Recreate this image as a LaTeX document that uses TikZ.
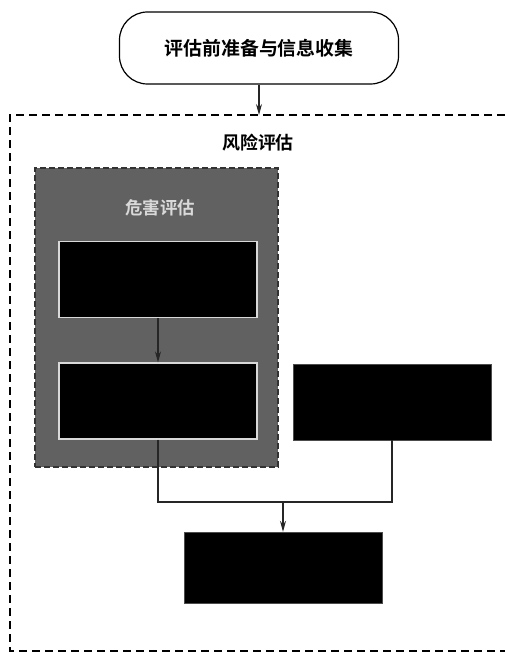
\documentclass[tikz,border=0pt]{standalone}
\usepackage{fontspec}
\setmainfont{Noto Sans CJK SC}[BoldFont={Noto Sans CJK SC Bold}]
\usetikzlibrary{arrows.meta}
\tikzset{
  blackbox/.style={draw=black!70, fill=black, minimum width=198bp, minimum height=76bp, inner sep=0pt},
  conn/.style={line width=1.2bp, draw=black!85},
  arr/.style={conn, -{Stealth[length=11bp,width=6bp]}},
  outerdash/.style={line width=1.4bp, dash pattern=on 8bp off 5bp},
}
\begin{document}
\begin{tikzpicture}[x=1bp,y=-1bp]
\useasboundingbox (0,0) rectangle (505,652);
% top terminal
\node[draw, line width=1.2bp, rounded corners=28bp, minimum width=279bp, minimum height=72bp, font=\fontsize{19}{22}\selectfont\bfseries] (start) at (259,48) {评估前准备与信息收集};
% outer dashed region
\coordinate (otl) at (10,115);
\draw[outerdash] (505,115) -- (otl) -- (10,651) -- (505,651);
\node[font=\fontsize{18}{21}\selectfont\bfseries] (risk) at (258,143) {风险评估};
\draw[arr] (start.south) -- (start.south |- otl);
% hazard group
\node[draw=black!80, fill=black!62, line width=1.3bp, dash pattern=on 6bp off 3bp, minimum width=243bp, minimum height=299bp, inner sep=0pt] (haz) at (156.5,317.5) {};
\node[font=\fontsize{17.5}{20}\selectfont\bfseries, text=white!85!black] (hazt) at (160,208) {危害评估};
\node[blackbox, draw=white!85!black, line width=1.2bp] (b1) at (158,279.5) {};
\node[blackbox, draw=white!85!black, line width=1.2bp] (b2) at (158,401) {};
\node[blackbox] (b3) at (392,402) {};
\node[blackbox, minimum height=71bp] (b4) at (283,567.5) {};
\draw[arr] (b1.south) -- (b2.north);
\coordinate (jl) at (157,502);
\draw[conn] (b2.south) -- (b2.south |- jl) -| (b3.south);
\draw[arr] (b4.north |- jl) -- (b4.north);
\end{tikzpicture}
\end{document}
